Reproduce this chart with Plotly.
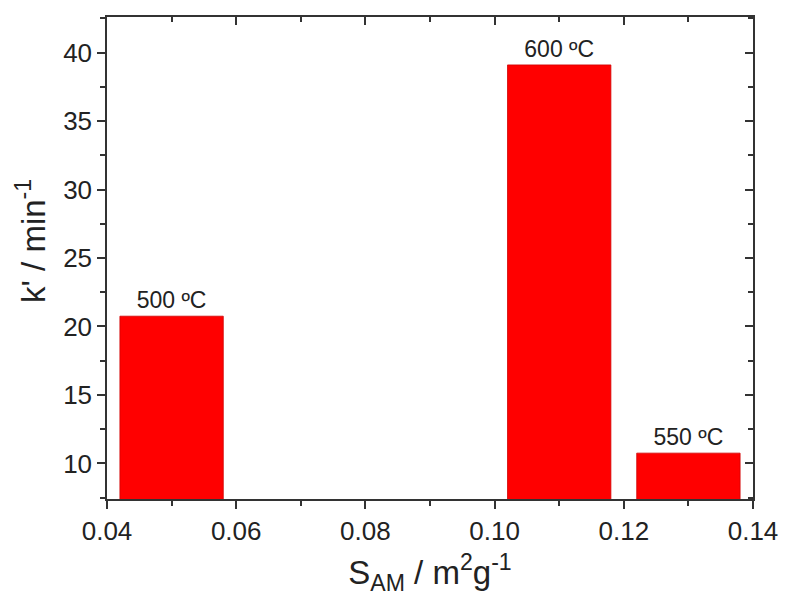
import plotly.graph_objects as go

surface_area = [0.05, 0.11, 0.13]
rate_const = [20.75, 39.1, 10.75]
temp_labels = ["500 ºC", "600 ºC", "550 ºC"]
bar_width = 0.016
x_ticks = [0.04, 0.06, 0.08, 0.10, 0.12, 0.14]
x_tick_labels = ["0.04", "0.06", "0.08", "0.10", "0.12", "0.14"]
y_ticks = [10, 15, 20, 25, 30, 35, 40]

FONT = "Liberation Sans, Arial, sans-serif"
INK = "#333333"

fig = go.Figure()
fig.add_trace(go.Bar(
    x=surface_area, y=rate_const, width=[bar_width] * len(surface_area),
    marker=dict(color="#FF0000", line=dict(color="#D00000", width=0.8)),
    text=temp_labels, textposition="outside",
    textfont=dict(family=FONT, size=23, color="#222222"),
    cliponaxis=False, showlegend=False,
))
# invisible trace to activate mirrored axes
fig.add_trace(go.Scatter(x=[surface_area[0]], y=[rate_const[0]], xaxis="x2", yaxis="y2",
                         mode="markers", marker=dict(opacity=0), showlegend=False, hoverinfo="skip"))

axis_common = dict(showgrid=False, zeroline=False, showline=True, linecolor=INK,
                   linewidth=1.5, tickcolor=INK, tickwidth=1.5)

# page body has an 8px margin: compensate so the plot lands where the reference has it
fig.update_layout(
    width=779, height=588,
    margin=dict(l=99, r=29, t=9, b=97),
    plot_bgcolor="white", paper_bgcolor="white",
    font=dict(family=FONT, color="#222222"),
    xaxis=dict(range=[0.04, 0.14], tickvals=x_ticks, ticktext=x_tick_labels,
               ticks="outside", ticklen=8,
               minor=dict(dtick=0.01, tick0=0.04, ticks="outside", ticklen=5,
                          tickcolor=INK, tickwidth=1.5),
               tickfont=dict(size=26, family=FONT),
               title=dict(text="S<sub>AM</sub> / m<sup>2</sup>g<sup>-1</sup>",
                          font=dict(size=33, family=FONT), standoff=17),
               **axis_common),
    yaxis=dict(range=[7.4, 42.6], tickvals=y_ticks,
               ticks="outside", ticklen=8,
               minor=dict(dtick=2.5, tick0=0, ticks="outside", ticklen=5,
                          tickcolor=INK, tickwidth=1.5),
               tickfont=dict(size=26, family=FONT),
               **axis_common),
    xaxis2=dict(range=[0.04, 0.14], overlaying="x", side="top", anchor="y",
                tickvals=x_ticks, showticklabels=False,
                ticks="inside", ticklen=8,
                minor=dict(dtick=0.01, tick0=0.04, ticks="inside", ticklen=5,
                           tickcolor=INK, tickwidth=1.5),
                **axis_common),
    yaxis2=dict(range=[7.4, 42.6], overlaying="y", side="right", anchor="x",
                tickvals=y_ticks, showticklabels=False,
                ticks="inside", ticklen=8,
                minor=dict(dtick=2.5, tick0=0, ticks="inside", ticklen=5,
                           tickcolor=INK, tickwidth=1.5),
                **axis_common),
    annotations=[dict(text="k' / min<sup>-1</sup>", textangle=-90, showarrow=False,
                      xref="paper", yref="paper", x=-0.118, y=0.535,
                      xanchor="center", yanchor="middle",
                      font=dict(size=33, family=FONT, color="#222222"))],
)

fig.write_html("out.html")
